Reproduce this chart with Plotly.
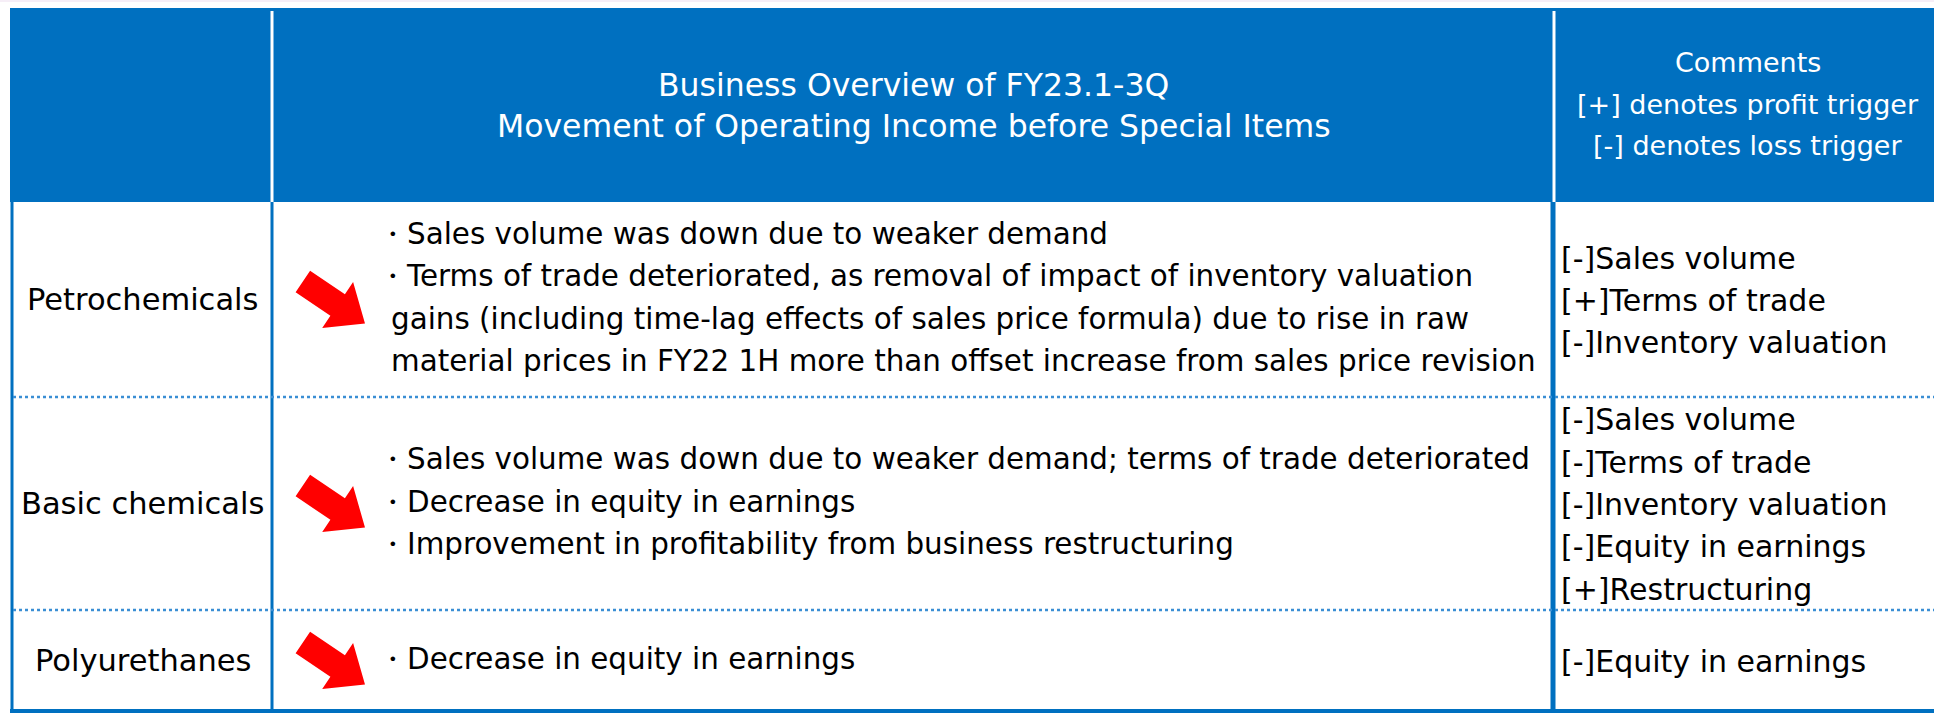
import math
import plotly.graph_objects as go

# ---------------- data ----------------
header_overview = ["Business Overview of FY23.1-3Q",
                   "Movement of Operating Income before Special Items"]
header_comments = ["Comments", "[+] denotes profit trigger", "[-] denotes loss trigger"]

segments = ["Petrochemicals", "Basic chemicals", "Polyurethanes"]

overview_petro = [
    "・Sales volume was down due to weaker demand",
    "・Terms of trade deteriorated, as removal of impact of inventory valuation",
    "gains (including time-lag effects of sales price formula) due to rise in raw",
    "material prices in FY22 1H more than offset increase from sales price revision",
]
overview_basic = [
    "・Sales volume was down due to weaker demand; terms of trade deteriorated",
    "・Decrease in equity in earnings",
    "・Improvement in profitability from business restructuring",
]
overview_pu = ["・Decrease in equity in earnings"]

comments_petro = ["[-]Sales volume", "[+]Terms of trade", "[-]Inventory valuation"]
comments_basic = ["[-]Sales volume", "[-]Terms of trade", "[-]Inventory valuation",
                  "[-]Equity in earnings", "[+]Restructuring"]
comments_pu = ["[-]Equity in earnings"]

overview = [overview_petro, overview_basic, overview_pu]
comments = [comments_petro, comments_basic, comments_pu]
trend = ["down", "down", "down"]

# ---------------- layout geometry ----------------
W, H = 1934, 713
BLUE = "#0070C0"
DOT = "#3A8ED4"
FONT = "DejaVu Sans, Verdana, sans-serif"

hdr_top, hdr_bot = 8, 202
row_edges = [202, 397, 610, 711]
col_x = [11, 272, 1553, 1942]
line_gap = 42.3
text_x = 389

fig = go.Figure()
shapes = []
ann = []


def arrow_path(tip_x, tip_y, angle_deg, head_len=33, head_half=27.7, shaft_half=13, total_len=75):
    a = math.radians(angle_deg)
    d = (math.cos(a), math.sin(a))
    n = (-math.sin(a), math.cos(a))
    local = [(0, 0), (-head_len, -head_half), (-head_len, -shaft_half), (-total_len, -shaft_half),
             (-total_len, shaft_half), (-head_len, shaft_half), (-head_len, head_half)]
    pts = [(tip_x + u * d[0] + v * n[0], tip_y + u * d[1] + v * n[1]) for u, v in local]
    return "M" + " L".join(f"{px:.1f},{py:.1f}" for px, py in pts) + " Z"


# faint top band
shapes.append(dict(type="rect", x0=0, x1=W, y0=0, y1=2, line_width=0, fillcolor="#F6EEF7", layer="below"))
# header block
shapes.append(dict(type="rect", x0=col_x[0] - 1, x1=col_x[3], y0=hdr_top, y1=hdr_bot,
                   line_width=0, fillcolor=BLUE, layer="below"))
# white dividers inside header
for xd in (col_x[1], col_x[2] + 1):
    shapes.append(dict(type="line", x0=xd, x1=xd, y0=11, y1=hdr_bot, line=dict(color="white", width=3)))
# body borders
shapes.append(dict(type="line", x0=col_x[0] + 1, x1=col_x[0] + 1, y0=hdr_bot, y1=H, line=dict(color=BLUE, width=3)))
shapes.append(dict(type="line", x0=col_x[1], x1=col_x[1], y0=hdr_bot, y1=H, line=dict(color=BLUE, width=3)))
shapes.append(dict(type="line", x0=col_x[2], x1=col_x[2], y0=hdr_bot, y1=H, line=dict(color=BLUE, width=5)))
shapes.append(dict(type="line", x0=col_x[0] - 1, x1=W, y0=711, y1=711, line=dict(color=BLUE, width=4)))
# dotted row separators
for ye in row_edges[1:-1]:
    shapes.append(dict(type="line", x0=col_x[0] + 2, x1=W, y0=ye, y1=ye,
                       line=dict(color=DOT, width=2.5, dash="dot")))

# header texts
hc = (hdr_top + hdr_bot) / 2
mid_x = (col_x[1] + col_x[2]) / 2 + 1
for i, t in enumerate(header_overview):
    y = hc + (i - (len(header_overview) - 1) / 2) * 41
    ann.append(dict(x=mid_x, y=y, text=t, showarrow=False, xanchor="center", yanchor="middle",
                    font=dict(family=FONT, size=31.5, color="white")))
com_x = (col_x[2] + col_x[3]) / 2
for i, t in enumerate(header_comments):
    y = hc - 1 + (i - (len(header_comments) - 1) / 2) * 41.5
    ann.append(dict(x=com_x, y=y, text=t, showarrow=False, xanchor="center", yanchor="middle",
                    font=dict(family=FONT, size=27, color="white")))

# body rows
for r, seg in enumerate(segments):
    top, bot = row_edges[r], row_edges[r + 1]
    rc = (top + bot) / 2
    ann.append(dict(x=(col_x[0] + col_x[1]) / 2 + 1, y=rc, text=seg, showarrow=False,
                    xanchor="center", yanchor="middle",
                    font=dict(family=FONT, size=30.5, color="#000000")))
    lines = overview[r]
    for i, t in enumerate(lines):
        y = rc - 2 + (i - (len(lines) - 1) / 2) * line_gap
        x = text_x - 13 if t.startswith("・") else text_x
        ann.append(dict(x=x, y=y, text=t, showarrow=False, xanchor="left", yanchor="middle",
                        font=dict(family=FONT, size=29.4, color="#000000")))
    lines = comments[r]
    for i, t in enumerate(lines):
        y = rc + 1 + (i - (len(lines) - 1) / 2) * line_gap
        ann.append(dict(x=col_x[2] + 6, y=y, text=t, showarrow=False, xanchor="left", yanchor="middle",
                        font=dict(family=FONT, size=30, color="#000000")))
    if trend[r] == "down":
        shapes.append(dict(type="path", path=arrow_path(365, rc + 24, 34),
                           fillcolor="#FF0000", line_width=0))

fig.update_layout(
    width=W, height=H,
    margin=dict(l=0, r=0, t=0, b=0),
    paper_bgcolor="white", plot_bgcolor="white",
    xaxis=dict(range=[0, W], visible=False, fixedrange=True),
    yaxis=dict(range=[H, 0], visible=False, fixedrange=True),
    shapes=shapes, annotations=ann, showlegend=False,
)
fig.write_html("out.html",
               config={"displayModeBar": False},
               post_script="document.body.style.margin='0px';document.body.style.overflow='hidden';")
